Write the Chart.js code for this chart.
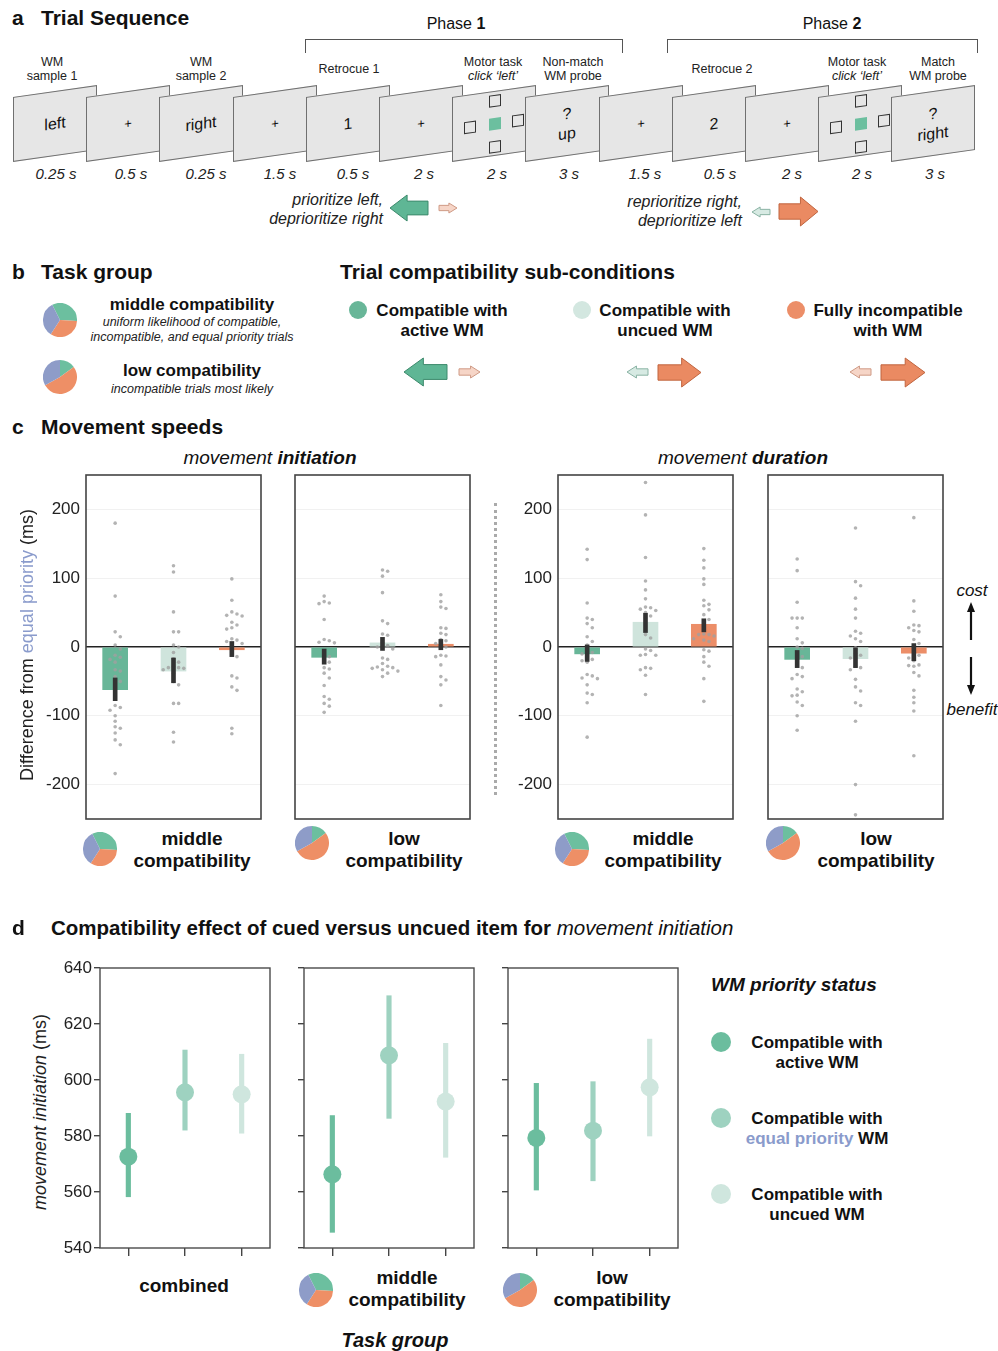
<!DOCTYPE html>
<html>
<head>
<meta charset="utf-8">
<script src="https://cdn.jsdelivr.net/npm/chart.js@4.4.1/dist/chart.umd.min.js"></script>
<style>
  body { margin: 0; background: #fff; }
  #fig { position: relative; width: 998px; height: 1351px; overflow: hidden;
         font-family: "Liberation Sans", Arial, sans-serif; color: #111; }
  canvas { position: absolute; }
</style>
</head>
<body>
<div id="fig"></div>
<script>
// ---- data ----
var condLabels = ['Compatible with active WM', 'Compatible with uncued WM', 'Fully incompatible with WM'];
var yTicksC = [-200, -100, 0, 100, 200];
var yTicksD = [540, 560, 580, 600, 620, 640];

// panel c, movement initiation, middle compatibility
var initMidMean = [-62, -35, -4];
var initMidLo = [-78, -52, -14];
var initMidHi = [-45, -16, 8];
var initMidDots = [
  [180, 74, 22, 15, 3, -3, -12, -15, -18, -22, -33, -35, -43, -50, -57, -65, -85, -88, -92, -100, -108, -116, -118, -125, -135, -142, -184],
  [118, 109, 51, 22, 22, 3, 0, -8, -17, -22, -28, -30, -30, -31, -33, -38, -50, -55, -82, -82, -124, -138],
  [99, 68, 51, 48, 46, 45, 36, 32, 28, 26, 12, 10, 8, 5, -10, -14, -42, -45, -58, -63, -118, -126]
];
// panel c, movement initiation, low compatibility
var initLowMean = [-15, 6, 4];
var initLowLo = [-25, -5, -4];
var initLowHi = [-3, 14, 11];
var initLowDots = [
  [74, 66, 64, 63, 40, 11, 9, 7, 6, -10, -14, -18, -22, -30, -32, -38, -45, -56, -72, -76, -82, -86, -95],
  [112, 110, 103, 79, 38, 34, 19, 17, 6, 2, 0, -2, -3, -16, -18, -24, -28, -29, -30, -31, -33, -35, -38, -43],
  [76, 66, 58, 56, 28, 27, 20, 18, 11, 9, 5, 2, 0, -12, -13, -14, -26, -43, -48, -55, -85]
];
// panel c, movement duration, middle compatibility
var durMidMean = [-10, 36, 33];
var durMidLo = [-21, 21, 22];
var durMidHi = [3, 49, 41];
var durMidDots = [
  [142, 127, 64, 42, 40, 34, 28, 15, 8, 3, -5, -8, -10, -14, -18, -20, -22, -40, -42, -45, -46, -55, -67, -69, -81, -131],
  [239, 192, 130, 96, 83, 70, 58, 57, 55, 53, 50, 45, 42, 18, 13, -3, -5, -11, -12, -12, -30, -31, -33, -41, -69],
  [143, 126, 115, 99, 91, 68, 62, 60, 54, 47, 40, 28, 19, 18, 18, 16, 12, 10, 8, -4, -6, -14, -22, -28, -46, -79]
];
// panel c, movement duration, low compatibility
var durLowMean = [-18, -17, -9];
var durLowLo = [-30, -30, -20];
var durLowHi = [-5, 0, 5];
var durLowDots = [
  [128, 111, 65, 42, 42, 42, 28, 12, 6, 0, -2, -13, -14, -25, -30, -40, -43, -46, -61, -65, -70, -71, -80, -85, -100, -121],
  [173, 95, 89, 71, 55, 42, 23, 20, 16, 12, 8, -1, -9, -12, -16, -28, -30, -33, -47, -58, -64, -81, -85, -108, -200, -244],
  [188, 67, 52, 32, 31, 28, 24, 22, 11, 5, 0, -9, -12, -16, -20, -26, -27, -28, -37, -42, -63, -73, -81, -93, -158]
];

// panel d, movement initiation (ms): active / equal priority / uncued
var combMean = [572.6, 595.6, 594.9];
var combLo = [558.3, 582.1, 581.0];
var combHi = [588.1, 610.7, 609.2];
var midMean = [566.3, 608.8, 592.3];
var midLo = [545.6, 586.3, 572.4];
var midHi = [587.3, 630.1, 613.1];
var lowMean = [579.3, 581.9, 597.4];
var lowLo = [560.7, 564.0, 580.0];
var lowHi = [598.8, 599.4, 614.6];

// task group pies: compatible / incompatible / equal priority
var pieLabels = ['compatible', 'incompatible', 'equal priority'];
var middleShares = [1, 1, 1];
var lowShares = [15, 52, 33];

// ---- colours ----
var barColors = ['#68b698', '#cfe4dc', '#ec8e68'];
var pointColors = ['#6bbd9e', '#9ed2c0', '#cfe6de'];
var pieColors = ['#6cbf9f', '#ee8f66', '#8e9cc8'];
var blue = '#8a9bcc';

Chart.defaults.font.family = '"Liberation Sans", Arial, sans-serif';
Chart.defaults.color = '#222';

var fig = document.getElementById('fig');

function el(tag, css, html) {
  var d = document.createElement(tag);
  d.style.cssText = css;
  if (html) d.innerHTML = html;
  fig.appendChild(d);
  return d;
}

function txt(x, y, html, size, extra, align) {
  var tr = align === 'l' ? 'translate(0,-50%)' : align === 'r' ? 'translate(-100%,-50%)' : 'translate(-50%,-50%)';
  var ta = align === 'l' ? 'left' : align === 'r' ? 'right' : 'center';
  return el('div', 'position:absolute;white-space:nowrap;left:' + x + 'px;top:' + y + 'px;font-size:' + size +
    'px;transform:' + tr + ';text-align:' + ta + ';' + (extra || ''), html);
}

function addCanvas(left, top, w, h) {
  var c = document.createElement('canvas');
  c.width = w; c.height = h;
  c.style.left = left + 'px'; c.style.top = top + 'px';
  c.style.width = w + 'px'; c.style.height = h + 'px';
  fig.appendChild(c);
  return c;
}

function blockArrow(x, y, w, h, dir, fill, stroke) {
  var hl = w * 0.45, a = h * 0.235, b = h * 0.765;
  var pts = [[0, a], [w - hl, a], [w - hl, 0], [w, h / 2], [w - hl, h], [w - hl, b], [0, b]];
  if (dir === 'left') pts = pts.map(function (p) { return [w - p[0], p[1]]; });
  var s = '<svg width="' + (w + 2) + '" height="' + (h + 2) + '"><polygon points="' +
    pts.map(function (p) { return (p[0] + 1) + ',' + (p[1] + 1); }).join(' ') +
    '" fill="' + fill + '" stroke="' + stroke + '" stroke-width="1"/></svg>';
  el('div', 'position:absolute;line-height:0;left:' + (x - 1) + 'px;top:' + (y - 1) + 'px', s);
}
var GREEN = ['#5fb695', '#3d8a6c'], PINK = ['#f6d5c7', '#cf9a85'],
    LIGHT = ['#d7eae3', '#8ab3a4'], ORANGE = ['#ea8a62', '#c0653f'];

// box around plot area
var boxPlugin = {
  id: 'box',
  afterDraw: function (chart, args, opts) {
    var a = chart.chartArea, ctx = chart.ctx;
    ctx.save();
    ctx.strokeStyle = opts.color;
    ctx.lineWidth = opts.width;
    ctx.strokeRect(a.left, a.top, a.right - a.left, a.bottom - a.top);
    ctx.restore();
  }
};

function pie(cx, cy, r, shares, rotation) {
  var cv = addCanvas(cx - r, cy - r, 2 * r, 2 * r);
  new Chart(cv, {
    type: 'pie',
    data: { labels: pieLabels, datasets: [{ data: shares, backgroundColor: pieColors, borderWidth: 0 }] },
    options: {
      responsive: false, animation: false, devicePixelRatio: 1, rotation: rotation,
      layout: { padding: 0, autoPadding: false },
      plugins: { legend: { display: false }, tooltip: { enabled: false } }
    }
  });
}
function groupPie(cx, cy, kind) {
  if (kind === 'middle') pie(cx, cy, 17, middleShares, -27);
  else pie(cx, cy, 17, lowShares, 0);
}

// beeswarm-style horizontal spread of the participant dots
function swarm(vals, cat) {
  var placed = [];
  return vals.map(function (v) {
    var y = v * 0.69, slot = 0;
    for (var k = 0; k < 40; k++) {
      var s = k % 2 ? (k + 1) / 2 : -k / 2;
      var hit = placed.some(function (p) { return p.s === s && Math.abs(p.y - y) < 5.5; });
      if (!hit) { slot = s; break; }
    }
    placed.push({ s: slot, y: y });
    return { x: cat + slot * 0.088, y: v };
  });
}

// ---- panel c charts ----
function speedChart(boxLeft, labeled, mean, lo, hi, dots) {
  var axisW = labeled ? 50 : 0, boxTop = 475, boxW = 175, boxH = 344;
  var cv = addCanvas(boxLeft - axisW - 1, boxTop - 1, axisW + boxW + 2, boxH + 2);
  var dotData = [];
  dots.forEach(function (vals, i) { dotData = dotData.concat(swarm(vals, i)); });
  new Chart(cv, {
    type: 'bar',
    data: {
      datasets: [
        { type: 'bar', label: 'CI', data: lo.map(function (v, i) { return { x: i, y: [lo[i], hi[i]] }; }),
          backgroundColor: '#333', barThickness: 4, grouped: false, order: 0 },
        { type: 'scatter', label: 'participants', data: dotData, pointRadius: 1.8, pointBorderWidth: 0,
          backgroundColor: 'rgba(160,160,160,0.8)', pointBackgroundColor: 'rgba(160,160,160,0.8)', order: 1 },
        { type: 'bar', label: 'mean', data: mean.map(function (v, i) { return { x: i, y: v }; }),
          backgroundColor: barColors, barThickness: 25, grouped: false, order: 2 }
      ]
    },
    options: {
      responsive: false, animation: false, devicePixelRatio: 1,
      layout: { padding: { left: 1, right: 1, top: 1, bottom: 1 }, autoPadding: false },
      plugins: { legend: { display: false }, tooltip: { enabled: false }, box: { color: '#444', width: 1.6 } },
      scales: {
        x: { type: 'linear', min: -0.5, max: 2.5, offset: false, grid: { offset: false }, display: false },
        y: {
          type: 'linear', min: -250, max: 250, border: { display: false },
          grid: {
            drawTicks: false,
            color: function (c) { return c.tick.value === 0 ? '#222' : '#f1f1f1'; },
            lineWidth: function (c) { return c.tick.value === 0 ? 1.6 : 1; }
          },
          ticks: { display: labeled, padding: 6, font: { size: 17 }, color: '#222' },
          afterBuildTicks: function (s) { s.ticks = yTicksC.map(function (v) { return { value: v }; }); },
          afterFit: function (s) { s.width = axisW; s.paddingTop = 0; s.paddingBottom = 0; }
        }
      }
    },
    plugins: [boxPlugin]
  });
}

speedChart(86, true, initMidMean, initMidLo, initMidHi, initMidDots);
speedChart(295, false, initLowMean, initLowLo, initLowHi, initLowDots);
speedChart(558, true, durMidMean, durMidLo, durMidHi, durMidDots);
speedChart(768, false, durLowMean, durLowLo, durLowHi, durLowDots);

// ---- panel d charts ----
function initChart(boxLeft, labeled, mean, lo, hi) {
  var axisW = labeled ? 48 : 7, boxTop = 968, boxW = 170, boxH = 280;
  var cv = addCanvas(boxLeft - axisW - 1, boxTop - 11, axisW + boxW + 2, boxH + 11 + 12);
  new Chart(cv, {
    type: 'bar',
    data: {
      datasets: [
        { type: 'scatter', label: 'mean', data: mean.map(function (v, i) { return { x: i, y: v }; }),
          pointRadius: 9, pointBorderWidth: 0, backgroundColor: pointColors, pointBackgroundColor: pointColors, order: 0 },
        { type: 'bar', label: 'CI', data: lo.map(function (v, i) { return { x: i, y: [lo[i], hi[i]] }; }),
          backgroundColor: pointColors, barThickness: 4.5, grouped: false, order: 1 }
      ]
    },
    options: {
      responsive: false, animation: false, devicePixelRatio: 1,
      layout: { padding: { left: 1, right: 1, top: 11, bottom: 0 }, autoPadding: false },
      plugins: { legend: { display: false }, tooltip: { enabled: false }, box: { color: '#4a4a4a', width: 1.4 } },
      scales: {
        x: {
          type: 'linear', min: -0.5, max: 2.5, offset: false, border: { display: false },
          grid: { offset: false, drawOnChartArea: false, drawTicks: true, tickLength: 8, color: '#444', lineWidth: 1.4 },
          ticks: { display: false },
          afterBuildTicks: function (s) { s.ticks = [0, 1, 2].map(function (v) { return { value: v }; }); },
          afterFit: function (s) { s.height = 12; s.paddingLeft = 0; s.paddingRight = 0; }
        },
        y: {
          type: 'linear', min: 540, max: 640, border: { display: false },
          grid: { drawOnChartArea: false, drawTicks: true, tickLength: 6, color: '#444', lineWidth: 1.4 },
          ticks: { display: labeled, padding: 2, font: { size: 17 }, color: '#222' },
          afterBuildTicks: function (s) { s.ticks = yTicksD.map(function (v) { return { value: v }; }); },
          afterFit: function (s) { s.width = axisW; s.paddingTop = 0; s.paddingBottom = 0; }
        }
      }
    },
    plugins: [boxPlugin]
  });
}

initChart(100, true, combMean, combLo, combHi);
initChart(304, false, midMean, midLo, midHi);
initChart(508, false, lowMean, lowLo, lowHi);

// ---- panel a: trial sequence ----
txt(12, 18, '<b>a</b>', 21, '', 'l');
txt(41, 18, '<b>Trial Sequence</b>', 21, '', 'l');
txt(456, 24, 'Phase <b>1</b>', 16);
txt(832, 24, 'Phase <b>2</b>', 16);
el('div', 'position:absolute;left:305px;top:39px;width:316px;height:13px;border:1.3px solid #555;border-bottom:none');
el('div', 'position:absolute;left:667px;top:39px;width:309px;height:13px;border:1.3px solid #555;border-bottom:none');

var frameItems = ['left', '+', 'right', '+', '1', '+', 'motor', '?<br>up', '+', '2', '+', 'motor', '?<br>right'];
frameItems.forEach(function (f, i) {
  var left = 13 + 73.2 * i;
  var d = el('div', 'position:absolute;left:' + left + 'px;top:91px;width:84px;height:65px;box-sizing:border-box;' +
    'background:#e6e6e6;border:1px solid #707070;transform:skewY(-8deg);');
  if (f === 'motor') {
    var sq = [[36, 3], [11, 26], [59, 26], [36, 49]];
    var h = sq.map(function (p) {
      return '<div style="position:absolute;left:' + p[0] + 'px;top:' + p[1] + 'px;width:12px;height:12px;box-sizing:border-box;border:1.4px solid #333"></div>';
    }).join('');
    h += '<div style="position:absolute;left:36px;top:26px;width:12px;height:12px;background:#6cbf9f"></div>';
    d.innerHTML = h;
  } else {
    d.innerHTML = '<div style="position:absolute;left:0;right:0;top:50%;transform:translateY(-50%);text-align:center;line-height:20px;font-size:' +
      (f === '+' ? 13 : 16) + 'px">' + f + '</div>';
  }
});

var lab = 'line-height:14px;color:#222';
txt(52, 69, 'WM<br>sample 1', 12.5, lab);
txt(201, 69, 'WM<br>sample 2', 12.5, lab);
txt(349, 69, 'Retrocue 1', 12.5, lab);
txt(493, 69, 'Motor task<br><i>click ‘left’</i>', 12.5, lab);
txt(573, 69, 'Non-match<br>WM probe', 12.5, lab);
txt(722, 69, 'Retrocue 2', 12.5, lab);
txt(857, 69, 'Motor task<br><i>click ‘left’</i>', 12.5, lab);
txt(938, 69, 'Match<br>WM probe', 12.5, lab);

var durations = [[56, '0.25 s'], [131, '0.5 s'], [206, '0.25 s'], [280, '1.5 s'], [353, '0.5 s'], [424, '2 s'],
  [497, '2 s'], [569, '3 s'], [645, '1.5 s'], [720, '0.5 s'], [792, '2 s'], [862, '2 s'], [935, '3 s']];
durations.forEach(function (d) { txt(d[0], 173, d[1], 15, 'font-style:italic;color:#222'); });

txt(383, 209, 'prioritize left,<br>deprioritize right', 16, 'font-style:italic;line-height:19px;color:#222', 'r');
blockArrow(390, 195, 38, 26, 'left', GREEN[0], GREEN[1]);
blockArrow(439, 203, 18, 10, 'right', PINK[0], PINK[1]);
txt(742, 211, 'reprioritize right,<br>deprioritize left', 16, 'font-style:italic;line-height:19px;color:#222', 'r');
blockArrow(752, 207, 18, 10, 'left', LIGHT[0], LIGHT[1]);
blockArrow(779, 197, 39, 29, 'right', ORANGE[0], ORANGE[1]);

// ---- panel b ----
txt(12, 272, '<b>b</b>', 21, '', 'l');
txt(41, 272, '<b>Task group</b>', 21, '', 'l');
txt(340, 272, '<b>Trial compatibility sub-conditions</b>', 21, '', 'l');
groupPie(60, 320, 'middle');
groupPie(60, 377, 'low');
txt(192, 305, '<b>middle compatibility</b>', 17);
txt(192, 330, 'uniform likelihood of compatible,<br>incompatible, and equal priority trials', 12.5, 'font-style:italic;line-height:15px;color:#222');
txt(192, 371, '<b>low compatibility</b>', 17);
txt(192, 389, 'incompatible trials most likely', 12.5, 'font-style:italic;color:#222');

function dot(cx, cy, r, color) {
  el('div', 'position:absolute;left:' + (cx - r) + 'px;top:' + (cy - r) + 'px;width:' + (2 * r) + 'px;height:' + (2 * r) + 'px;border-radius:50%;background:' + color);
}
dot(358, 310, 9, barColors[0]);
dot(582, 310, 9, '#d3e7e0');
dot(796, 310, 9, barColors[2]);
var sub = 'font-weight:bold;line-height:20px';
txt(442, 321, 'Compatible with<br>active WM', 17, sub);
txt(665, 321, 'Compatible with<br>uncued WM', 17, sub);
txt(888, 321, 'Fully incompatible<br>with WM', 17, sub);
blockArrow(404, 358, 43, 28, 'left', GREEN[0], GREEN[1]);
blockArrow(459, 366, 21, 12, 'right', PINK[0], PINK[1]);
blockArrow(627, 366, 21, 12, 'left', LIGHT[0], LIGHT[1]);
blockArrow(658, 358, 43, 29, 'right', ORANGE[0], ORANGE[1]);
blockArrow(850, 366, 21, 12, 'left', PINK[0], PINK[1]);
blockArrow(881, 358, 44, 29, 'right', ORANGE[0], ORANGE[1]);

// ---- panel c texts ----
txt(12, 427, '<b>c</b>', 21, '', 'l');
txt(41, 427, '<b>Movement speeds</b>', 21, '', 'l');
txt(270, 458, '<i>movement <b>initiation</b></i>', 19);
txt(743, 458, '<i>movement <b>duration</b></i>', 19);
el('div', 'position:absolute;left:27px;top:645px;white-space:nowrap;font-size:18px;color:#222;transform:translate(-50%,-50%) rotate(-90deg)',
  'Difference from <span style="color:' + blue + '">equal priority</span> (ms)');
el('div', 'position:absolute;left:494px;top:503px;height:292px;width:0;border-left:3px dotted #aaa');
groupPie(100, 849, 'middle');
groupPie(312, 843, 'low');
groupPie(572, 849, 'middle');
groupPie(783, 843, 'low');
var grp = 'font-weight:bold;line-height:22px';
txt(192, 850, 'middle<br>compatibility', 19, grp);
txt(404, 850, 'low<br>compatibility', 19, grp);
txt(663, 850, 'middle<br>compatibility', 19, grp);
txt(876, 850, 'low<br>compatibility', 19, grp);
txt(972, 591, 'cost', 17, 'font-style:italic');
txt(972, 710, 'benefit', 17, 'font-style:italic');
el('div', 'position:absolute;left:962px;top:600px;line-height:0',
  '<svg width="18" height="97"><path d="M9 40 V9" stroke="#111" stroke-width="2.2"/><polygon points="9,2 5,12 13,12" fill="#111"/>' +
  '<path d="M9 57 V88" stroke="#111" stroke-width="2.2"/><polygon points="9,95 5,85 13,85" fill="#111"/></svg>');

// ---- panel d texts ----
txt(12, 928, '<b>d</b>', 21, '', 'l');
txt(51, 928, '<b>Compatibility effect of cued versus uncued item for </b><i>movement initiation</i>', 20.5, '', 'l');
el('div', 'position:absolute;left:40px;top:1112px;white-space:nowrap;font-size:18px;color:#222;transform:translate(-50%,-50%) rotate(-90deg)',
  '<i>movement initiation</i> (ms)');
txt(184, 1286, '<b>combined</b>', 19);
groupPie(316, 1290, 'middle');
groupPie(520, 1290, 'low');
txt(407, 1289, 'middle<br>compatibility', 19, grp);
txt(612, 1289, 'low<br>compatibility', 19, grp);
txt(395, 1340, '<b><i>Task group</i></b>', 20);
txt(711, 985, '<b><i>WM priority status</i></b>', 19, '', 'l');
dot(721, 1042, 10, pointColors[0]);
dot(721, 1118, 10, pointColors[1]);
dot(721, 1194, 10, pointColors[2]);
txt(817, 1053, 'Compatible with<br>active WM', 17, sub);
txt(817, 1129, 'Compatible with<br><span style="color:' + blue + '">equal priority</span> WM', 17, sub);
txt(817, 1205, 'Compatible with<br>uncued WM', 17, sub);
</script>
</body>
</html>
